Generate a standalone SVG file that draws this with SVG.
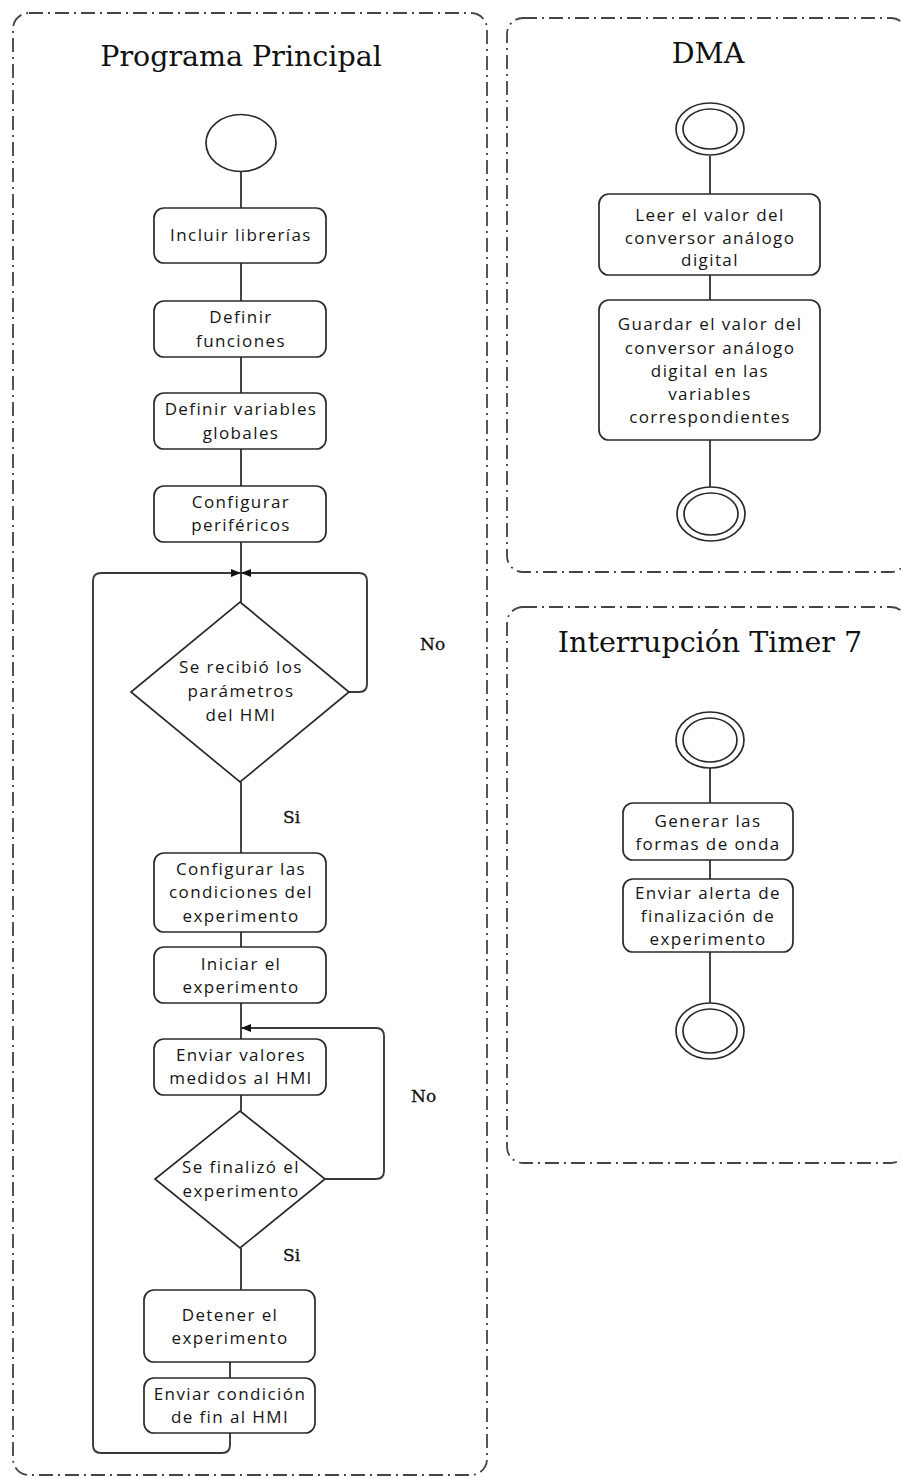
<svg xmlns="http://www.w3.org/2000/svg" width="901" height="1479" viewBox="0 0 901 1479">
  <style>
    .frame { fill: none; stroke: #444; stroke-width: 1.8; stroke-dasharray: 14 5 2 5; }
    .title { font-family: "DejaVu Serif", "Liberation Serif", serif; font-size: 28.5px; fill: #111; text-anchor: middle; }
    .lbl { font-family: "DejaVu Serif", "Liberation Serif", serif; font-size: 17px; fill: #111; stroke: #111; stroke-width: 0.3; }
    .box { fill: #fff; stroke: #2a2a2a; stroke-width: 1.7; }
    .txt { font-family: "Open Sans", "Noto Sans", sans-serif; font-size: 17px; letter-spacing: 1.4px; fill: #151515; text-anchor: middle; }
    .edge { fill: none; stroke: #3a3a3a; stroke-width: 1.9; }
  </style>
  <defs>
    <marker id="arrow" viewBox="0 0 10 8" refX="10" refY="4" markerWidth="10" markerHeight="8" markerUnits="userSpaceOnUse" orient="auto">
      <path d="M0,0 L10,4 L0,8 z" fill="#111"/>
    </marker>
  </defs>

  <rect width="901" height="1479" fill="#fff"/>

  <!-- swimlane frames -->
  <g id="frames">
    <rect class="frame" x="13" y="13" width="474" height="1462" rx="16"/>
    <rect class="frame" x="507" y="18" width="400" height="554" rx="16"/>
    <rect class="frame" x="507" y="607" width="400" height="556" rx="16"/>
    <text class="title" x="241" y="66">Programa Principal</text>
    <text class="title" x="708" y="63">DMA</text>
    <text class="title" x="710" y="652">Interrupción Timer 7</text>
  </g>

  <!-- connectors -->
  <g id="connectors">
    <path class="edge" d="M241 171 V208"/>
    <path class="edge" d="M241 263 V301"/>
    <path class="edge" d="M241 357 V393"/>
    <path class="edge" d="M241 449 V486"/>
    <path class="edge" d="M241 542 V602"/>
    <path class="edge" d="M241 782 V853"/>
    <path class="edge" d="M241 932 V947"/>
    <path class="edge" d="M241 1003 V1039"/>
    <path class="edge" d="M241 1095 V1111"/>
    <path class="edge" d="M241 1248 V1290"/>
    <path class="edge" d="M230 1362 V1378"/>
    <!-- back to the parameter check -->
    <path class="edge" d="M230 1433 V1445 Q230 1453 222 1453 H101 Q93 1453 93 1445 V581 Q93 573 101 573 H241" marker-end="url(#arrow)"/>
    <!-- "No" loop of the parameter check -->
    <path class="edge" d="M349 692 H359 Q367 692 367 684 V581 Q367 573 359 573 H241" marker-end="url(#arrow)"/>
    <!-- "No" loop of the end-of-experiment check -->
    <path class="edge" d="M324 1179 H376 Q384 1179 384 1171 V1036 Q384 1028 376 1028 H241" marker-end="url(#arrow)"/>

    <!-- DMA -->
    <path class="edge" d="M710 156 V194"/>
    <path class="edge" d="M710 275 V300"/>
    <path class="edge" d="M710 440 V487"/>

    <!-- Timer 7 -->
    <path class="edge" d="M710 768 V803"/>
    <path class="edge" d="M710 860 V879"/>
    <path class="edge" d="M710 952 V1003"/>

    <text class="lbl" x="420" y="650">No</text>
    <text class="lbl" x="283" y="823">Si</text>
    <text class="lbl" x="411" y="1102">No</text>
    <text class="lbl" x="283" y="1261">Si</text>
  </g>

  <!-- main program -->
  <g id="start-main">
    <ellipse class="box" cx="241" cy="143" rx="35" ry="28.5"/>
  </g>
  <g id="incluir">
    <rect class="box" x="154" y="208" width="172" height="55" rx="10"/>
    <text class="txt" x="241" y="241">Incluir librerías</text>
  </g>
  <g id="definir-funciones">
    <rect class="box" x="154" y="301" width="172" height="56" rx="10"/>
    <text class="txt" x="241" y="323">Definir</text>
    <text class="txt" x="241" y="347">funciones</text>
  </g>
  <g id="definir-variables">
    <rect class="box" x="154" y="393" width="172" height="56" rx="10"/>
    <text class="txt" x="241" y="415">Definir variables</text>
    <text class="txt" x="241" y="439">globales</text>
  </g>
  <g id="configurar-perifericos">
    <rect class="box" x="154" y="486" width="172" height="56" rx="10"/>
    <text class="txt" x="241" y="508">Configurar</text>
    <text class="txt" x="241" y="531">periféricos</text>
  </g>
  <g id="check-parametros">
    <polygon class="box" points="240,602 349,692 240,782 131,692"/>
    <text class="txt" x="241" y="673">Se recibió los</text>
    <text class="txt" x="241" y="697">parámetros</text>
    <text class="txt" x="241" y="721">del HMI</text>
  </g>
  <g id="configurar-condiciones">
    <rect class="box" x="154" y="853" width="172" height="79" rx="10"/>
    <text class="txt" x="241" y="875">Configurar las</text>
    <text class="txt" x="241" y="898">condiciones del</text>
    <text class="txt" x="241" y="922">experimento</text>
  </g>
  <g id="iniciar">
    <rect class="box" x="154" y="947" width="172" height="56" rx="10"/>
    <text class="txt" x="241" y="970">Iniciar el</text>
    <text class="txt" x="241" y="993">experimento</text>
  </g>
  <g id="enviar-valores">
    <rect class="box" x="154" y="1039" width="172" height="56" rx="10"/>
    <text class="txt" x="241" y="1061">Enviar valores</text>
    <text class="txt" x="241" y="1084">medidos al HMI</text>
  </g>
  <g id="check-fin">
    <polygon class="box" points="240,1111 325,1179 240,1248 155,1179"/>
    <text class="txt" x="241" y="1173">Se finalizó el</text>
    <text class="txt" x="241" y="1197">experimento</text>
  </g>
  <g id="detener">
    <rect class="box" x="144" y="1290" width="171" height="72" rx="10"/>
    <text class="txt" x="230" y="1321">Detener el</text>
    <text class="txt" x="230" y="1344">experimento</text>
  </g>
  <g id="enviar-fin">
    <rect class="box" x="144" y="1378" width="171" height="55" rx="10"/>
    <text class="txt" x="230" y="1400">Enviar condición</text>
    <text class="txt" x="230" y="1423">de fin al HMI</text>
  </g>

  <!-- DMA routine -->
  <g id="dma-start">
    <ellipse class="box" cx="710" cy="129" rx="34" ry="26"/>
    <ellipse class="box" cx="710" cy="129" rx="27" ry="20"/>
  </g>
  <g id="dma-leer">
    <rect class="box" x="599" y="194" width="221" height="81" rx="10"/>
    <text class="txt" x="710" y="221">Leer el valor del</text>
    <text class="txt" x="710" y="244">conversor análogo</text>
    <text class="txt" x="710" y="266">digital</text>
  </g>
  <g id="dma-guardar">
    <rect class="box" x="599" y="300" width="221" height="140" rx="10"/>
    <text class="txt" x="710" y="330">Guardar el valor del</text>
    <text class="txt" x="710" y="354">conversor análogo</text>
    <text class="txt" x="710" y="377">digital en las</text>
    <text class="txt" x="710" y="400">variables</text>
    <text class="txt" x="710" y="423">correspondientes</text>
  </g>
  <g id="dma-end">
    <ellipse class="box" cx="711" cy="514" rx="34" ry="27"/>
    <ellipse class="box" cx="711" cy="514" rx="27" ry="21"/>
  </g>

  <!-- Timer 7 interrupt -->
  <g id="tim-start">
    <ellipse class="box" cx="710" cy="740" rx="34" ry="28"/>
    <ellipse class="box" cx="710" cy="740" rx="27" ry="22"/>
  </g>
  <g id="tim-generar">
    <rect class="box" x="623" y="803" width="170" height="57" rx="10"/>
    <text class="txt" x="708" y="827">Generar las</text>
    <text class="txt" x="708" y="850">formas de onda</text>
  </g>
  <g id="tim-alerta">
    <rect class="box" x="623" y="879" width="170" height="73" rx="10"/>
    <text class="txt" x="708" y="899">Enviar alerta de</text>
    <text class="txt" x="708" y="922">finalización de</text>
    <text class="txt" x="708" y="945">experimento</text>
  </g>
  <g id="tim-end">
    <ellipse class="box" cx="710" cy="1031" rx="34" ry="28"/>
    <ellipse class="box" cx="710" cy="1031" rx="27" ry="22"/>
  </g>
</svg>
